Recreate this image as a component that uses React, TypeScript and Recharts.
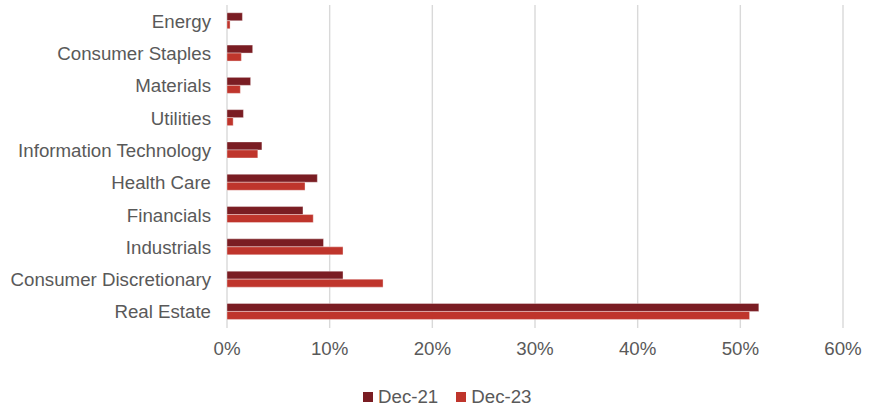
import { Bar, BarChart, CartesianGrid, Legend, XAxis, YAxis } from "recharts";

const sectors = [
  "Energy",
  "Consumer Staples",
  "Materials",
  "Utilities",
  "Information Technology",
  "Health Care",
  "Financials",
  "Industrials",
  "Consumer Discretionary",
  "Real Estate",
];

// weights in percent
const dec21 = [1.5, 2.5, 2.3, 1.6, 3.4, 8.8, 7.4, 9.4, 11.3, 51.8];
const dec23 = [0.3, 1.4, 1.3, 0.6, 3.0, 7.6, 8.4, 11.3, 15.2, 50.9];

const xTicks = [0, 10, 20, 30, 40, 50, 60];

const seriesNames = ["Dec-21", "Dec-23"];
const colors = ["#7A1D23", "#BF352C"];

const data = sectors.map((sector, i) => ({ sector, dec21: dec21[i], dec23: dec23[i] }));

const font = "'Liberation Sans', Arial, sans-serif";
const textColor = "#595959";

function LegendBox() {
  return (
    <div
      style={{
        display: "flex",
        paddingLeft: 363,
        paddingTop: 18,
        height: 22,
        fontFamily: font,
        fontSize: 18.7,
        color: textColor,
        lineHeight: "20px",
      }}
    >
      {seriesNames.map((name, i) => (
        <div key={name} style={{ display: "flex", alignItems: "center", marginRight: 18 }}>
          <span style={{ width: 10, height: 10, background: colors[i], marginRight: 5 }} />
          <span>{name}</span>
        </div>
      ))}
    </div>
  );
}

export default function App() {
  return (
    <div style={{ position: "absolute", left: 0, top: 0, background: "#fff" }}>
      <BarChart
        width={875}
        height={408}
        data={data}
        layout="vertical"
        margin={{ top: 5, right: 32, bottom: 0, left: 0 }}
        barCategoryGap="24%"
        barGap={0}
      >
        <CartesianGrid horizontal={false} stroke="#d9d9d9" strokeWidth={1.4} />
        <XAxis
          type="number"
          domain={[0, 60]}
          ticks={xTicks}
          tickFormatter={(v) => `${v}%`}
          axisLine={false}
          tickLine={false}
          tickSize={0}
          tickMargin={14}
          height={40}
          tick={{ fill: textColor, fontSize: 18.7, fontFamily: font }}
        />
        <YAxis
          type="category"
          dataKey="sector"
          width={227}
          axisLine={false}
          tickLine={false}
          tickSize={0}
          tickMargin={16}
          interval={0}
          tick={{ fill: textColor, fontSize: 18.7, fontFamily: font }}
        />
        <Legend verticalAlign="bottom" wrapperStyle={{ left: 0, width: 875 }} content={<LegendBox />} />
        <Bar
          dataKey="dec21"
          name={seriesNames[0]}
          fill={colors[0]}
          stroke="#ffffff"
          strokeOpacity={0.45}
          strokeWidth={0.8}
          isAnimationActive={false}
        />
        <Bar
          dataKey="dec23"
          name={seriesNames[1]}
          fill={colors[1]}
          stroke="#ffffff"
          strokeOpacity={0.45}
          strokeWidth={0.8}
          isAnimationActive={false}
        />
      </BarChart>
    </div>
  );
}
